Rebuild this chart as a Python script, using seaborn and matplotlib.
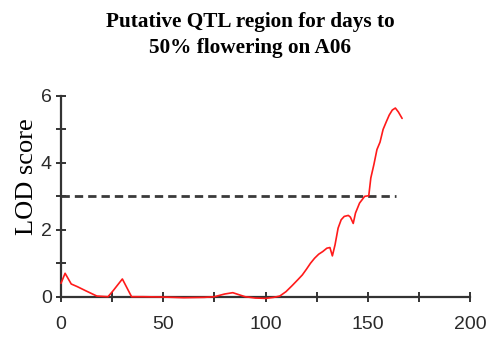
import matplotlib
matplotlib.use("Agg")
import matplotlib.pyplot as plt
from matplotlib.ticker import MultipleLocator
import numpy as np
import pandas as pd
import seaborn as sns

# LOD profile along chromosome A06 (position in cM)
position = [0, 2, 5, 8, 12, 17.5, 23, 25.5, 30, 34.5, 40, 50, 60, 70, 75, 80, 84,
            88, 90, 95, 100, 104, 107, 110, 113, 116, 118, 120, 122, 124, 126,
            128, 130, 131.5, 132.7, 134, 135.5, 137, 138.5, 140.5, 141.5, 142.9,
            144, 146, 148.5, 150.5, 151.5, 153, 154.5, 156, 157.5, 159, 160.5,
            162, 163.5, 165, 166.8]
lod = [0.40, 0.70, 0.38, 0.30, 0.18, 0.02, 0.00, 0.18, 0.53, 0.00, 0.00, -0.01,
       -0.03, -0.02, 0.00, 0.08, 0.12, 0.04, 0.00, -0.04, -0.05, -0.02, 0.02,
       0.15, 0.33, 0.52, 0.65, 0.82, 1.00, 1.15, 1.27, 1.35, 1.45, 1.47, 1.22,
       1.55, 2.05, 2.30, 2.40, 2.43, 2.38, 2.19, 2.50, 2.80, 3.00, 3.02, 3.55,
       3.95, 4.40, 4.62, 5.00, 5.22, 5.43, 5.58, 5.64, 5.52, 5.33]

threshold = 3.0
threshold_span = [0, 164]

x_ticks = [0, 50, 100, 150, 200]
y_ticks = [0, 2, 4, 6]

sns.set_style("white")
plt.rcParams["lines.scale_dashes"] = False

profile = pd.DataFrame({"position": position, "lod": lod})
thr = pd.DataFrame({"position": threshold_span, "lod": [threshold] * 2})

fig = plt.figure(figsize=(4.91, 3.39), dpi=100)
ax = fig.add_axes([61 / 491, 1 - 296.7 / 339, 409 / 491, 200.7 / 339])

sns.lineplot(data=thr, x="position", y="lod", ax=ax, color="#3a3a3a",
             linewidth=2.0, dashes=False, estimator=None, sort=False)
ax.lines[-1].set_dashes((6, 3.6))
sns.lineplot(data=profile, x="position", y="lod", ax=ax, color="#ff1a1a",
             linewidth=1.2, estimator=None, sort=False, zorder=3)
for ln in ax.lines:
    ln.set_clip_on(False)

ax.set_xlim(0, 200)
ax.set_ylim(0, 6)
ax.set_xticks(x_ticks)
ax.set_yticks(y_ticks)
ax.xaxis.set_minor_locator(MultipleLocator(25))
ax.yaxis.set_minor_locator(MultipleLocator(1))

for side in ("top", "right"):
    ax.spines[side].set_visible(False)
for side in ("left", "bottom"):
    ax.spines[side].set_color("#333333")
    ax.spines[side].set_linewidth(1.6)
    ax.spines[side].set_zorder(2)

ax.tick_params(which="both", bottom=True, left=True, direction="inout",
               length=6.5, width=1.4, color="#333333")
ax.tick_params(axis="x", which="major", pad=10.5, labelcolor="#2a2a2a")
ax.tick_params(axis="y", which="major", pad=3.5, labelcolor="#2a2a2a")
for lab in ax.get_xticklabels() + ax.get_yticklabels():
    lab.set_fontfamily("Liberation Sans")
    lab.set_fontsize(14)

ax.set_xlabel("")
ax.set_ylabel("LOD score", fontfamily="Liberation Serif", fontsize=19,
              color="black")
ax.yaxis.set_label_coords(-23 / 409, (296.7 - 176.7) / 200.7)

fig.text(0.51, 1 - 35.5 / 339, "Putative QTL region for days to\n50% flowering on A06",
         ha="center", va="center", fontfamily="Liberation Serif",
         fontweight="bold", fontsize=15.3, linespacing=1.4, color="black")

fig.savefig("out.png", dpi=100)
